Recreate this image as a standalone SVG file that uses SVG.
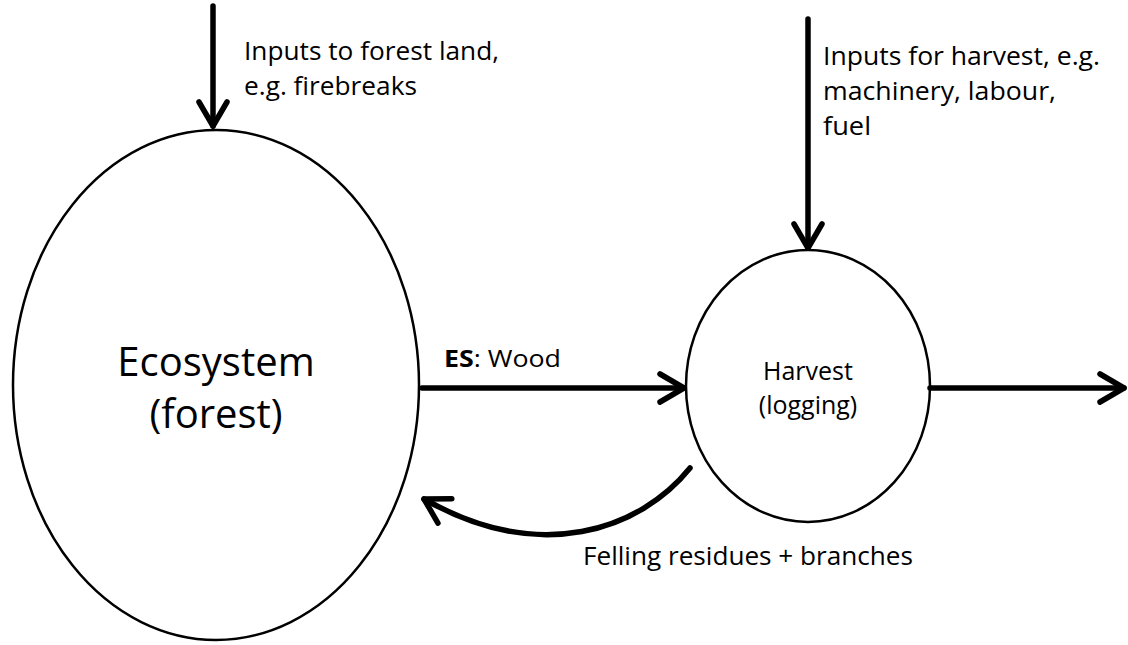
<svg xmlns="http://www.w3.org/2000/svg" width="1128" height="645" viewBox="0 0 1128 645">
<style>
.node{fill:#fff;stroke:#000;stroke-width:2.5}
.conn{fill:none;stroke:#000;stroke-width:5.5;stroke-linecap:round;stroke-linejoin:round}
.t{font-family:"Open Sans","Liberation Sans",sans-serif;fill:#000}
.lb{font-size:25px}
</style>
<defs>
<marker id="ah" markerUnits="userSpaceOnUse" viewBox="-30 -20 34 40" refX="0" refY="0" markerWidth="34" markerHeight="40" orient="auto">
<path d="M-24,-14 L0,0 L-24,14" fill="none" stroke="#000" stroke-width="5.5" stroke-linecap="round" stroke-linejoin="round"/>
</marker>
</defs>
<rect width="1128" height="645" fill="#fff"/>
<g id="ecosystem">
<ellipse class="node" cx="216" cy="385" rx="203" ry="255"/>
<text class="t" x="216" y="376" font-size="40" text-anchor="middle">Ecosystem</text>
<text class="t" x="216" y="428" font-size="40" text-anchor="middle">(forest)</text>
</g>
<g id="harvest">
<ellipse class="node" cx="808" cy="386" rx="122" ry="136"/>
<text class="t" x="808" y="380" font-size="25" text-anchor="middle">Harvest</text>
<text class="t" x="808" y="414" font-size="25" text-anchor="middle">(logging)</text>
</g>
<g id="connectors">
<line class="conn" x1="213" y1="6" x2="213" y2="126" marker-end="url(#ah)"/>
<line class="conn" x1="808" y1="19" x2="808" y2="248" marker-end="url(#ah)"/>
<line class="conn" x1="422" y1="388" x2="684" y2="388" marker-end="url(#ah)"/>
<line class="conn" x1="930" y1="388" x2="1124" y2="388" marker-end="url(#ah)"/>
<path class="conn" d="M690,468 C640,530 540,565 424,499" marker-end="url(#ah)"/>
</g>
<g id="labels">
<text class="t lb" x="244" y="60" textLength="255" lengthAdjust="spacingAndGlyphs">Inputs to forest land,</text>
<text class="t lb" x="244" y="95" textLength="173" lengthAdjust="spacingAndGlyphs">e.g. firebreaks</text>
<text class="t lb" x="823" y="65" textLength="277" lengthAdjust="spacingAndGlyphs">Inputs for harvest, e.g.</text>
<text class="t lb" x="823" y="100" textLength="233" lengthAdjust="spacingAndGlyphs">machinery, labour,</text>
<text class="t lb" x="823" y="135" textLength="48" lengthAdjust="spacingAndGlyphs">fuel</text>
<text class="t" x="444" y="367" font-size="24" textLength="117" lengthAdjust="spacingAndGlyphs"><tspan font-weight="bold">ES</tspan>: Wood</text>
<text class="t lb" x="583" y="565" textLength="330" lengthAdjust="spacingAndGlyphs">Felling residues + branches</text>
</g>
</svg>
